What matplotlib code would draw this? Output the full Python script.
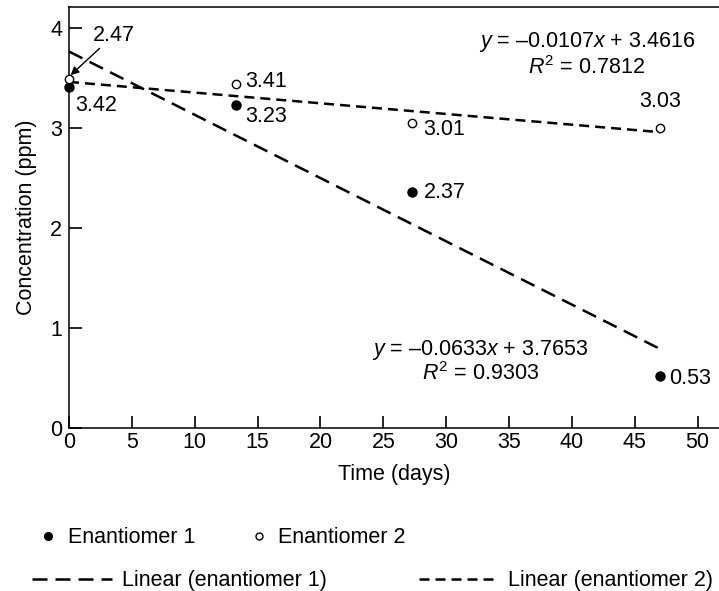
import matplotlib
matplotlib.use("Agg")
import matplotlib.pyplot as plt
from matplotlib.lines import Line2D
import numpy as np

plt.rcParams['font.family'] = ['Liberation Sans', 'DejaVu Sans']
plt.rcParams['mathtext.fontset'] = 'custom'
plt.rcParams['mathtext.it'] = 'Liberation Sans:italic'
plt.rcParams['mathtext.rm'] = 'Liberation Sans'

# data
days = [0, 13.3, 27.3, 47]
enant1 = [3.41, 3.23, 2.36, 0.52]
enant2 = [3.49, 3.44, 3.05, 3.00]
labels1 = ["3.42", "3.23", "2.37", "0.53"]
labels2 = ["2.47", "3.41", "3.01", "3.03"]
fit1 = (-0.0633, 3.7653, 0.9303)
fit2 = (-0.0107, 3.4616, 0.7812)
xticks = [0, 5, 10, 15, 20, 25, 30, 35, 40, 45, 50]
yticks = [0, 1, 2, 3, 4]

FS = 15.5
LONG = (6, 3.2)
SHORT = (4, 2.4)

fig = plt.figure(figsize=(7.19, 5.91), dpi=100)
ax = fig.add_axes([0.096, 0.276, 0.904, 0.712])
ax.set_xlim(0, 51.7)
ax.set_ylim(0, 4.21)

xfit = np.array([days[0], days[-1]])
ax.plot(xfit, fit1[0] * xfit + fit1[1], color='black', lw=1.8, dashes=LONG)
ax.plot(xfit, fit2[0] * xfit + fit2[1], color='black', lw=1.8, dashes=SHORT)

ax.plot(days, enant1, 'o', color='black', ms=6.5, ls='none', clip_on=False, zorder=5)
ax.plot(days, enant2, 'o', mfc='white', mec='black', mew=1.0, ms=6, ls='none', clip_on=False, zorder=6)

# point labels
ax.text(0.5, enant1[0] - 0.08, labels1[0], fontsize=FS, va='top', ha='left')
ax.text(14.0, enant1[1] - 0.01, labels1[1], fontsize=FS, va='top', ha='left')
ax.text(28.2, enant1[2], labels1[2], fontsize=FS, va='center', ha='left')
ax.text(47.7, enant1[3] - 0.03, labels1[3], fontsize=FS, va='center', ha='left')

ax.annotate(labels2[0], xy=(days[0] + 0.05, enant2[0] + 0.03), xytext=(1.9, 3.93),
            fontsize=FS, va='center', ha='left',
            arrowprops=dict(arrowstyle='-|>', color='black', lw=1.0,
                            shrinkA=0, shrinkB=1, mutation_scale=12))
ax.text(14.0, enant2[1] + 0.03, labels2[1], fontsize=FS, va='center', ha='left')
ax.text(28.2, enant2[2] - 0.06, labels2[2], fontsize=FS, va='center', ha='left')
ax.text(days[3], enant2[3] + 0.16, labels2[3], fontsize=FS, va='bottom', ha='center')

# equations
ax.text(41.2, 3.86, r"$y$ = –%.4f$x$ + %.4f" % (-fit2[0], fit2[1]), fontsize=FS, ha='center', va='center')
ax.text(41.2, 3.61, r"$R^2$ = %.4f" % fit2[2], fontsize=FS, ha='center', va='center')
ax.text(32.7, 0.78, r"$y$ = –%.4f$x$ + %.4f" % (-fit1[0], fit1[1]), fontsize=FS, ha='center', va='center')
ax.text(32.7, 0.54, r"$R^2$ = %.4f" % fit1[2], fontsize=FS, ha='center', va='center')

ax.set_xticks(xticks)
ax.set_yticks(yticks)
ax.xaxis.set_tick_params(which='major', direction='in', length=9, width=1.2,
                         color='black', labelsize=FS, pad=3, bottom=True, top=False)
ax.yaxis.set_tick_params(which='major', direction='in', length=9, width=1.2,
                         color='black', labelsize=FS, pad=5, left=True, right=False)
for s in ['left', 'top', 'bottom']:
    ax.spines[s].set_linewidth(1.1)
ax.spines['right'].set_visible(False)
ax.set_xlabel("Time (days)", fontsize=FS, labelpad=8)
ax.set_ylabel("Concentration (ppm)", fontsize=FS, labelpad=9)

h1 = [Line2D([], [], marker='o', color='black', ls='none', ms=5.5),
      Line2D([], [], marker='o', mfc='white', mec='black', ls='none', ms=5)]
leg1 = fig.legend(h1, ["Enantiomer 1", "Enantiomer 2"], loc='center left',
                  bbox_to_anchor=(0.03, 0.09), ncol=2, frameon=False, fontsize=FS,
                  handlelength=0.7, handletextpad=0.55, columnspacing=2.6)
h2 = [Line2D([], [], color='black', lw=1.8, dashes=LONG),
      Line2D([], [], color='black', lw=1.8, dashes=SHORT)]
leg2 = fig.legend(h2, ["Linear (enantiomer 1)", "Linear (enantiomer 2)"], loc='center left',
                  bbox_to_anchor=(0.018, 0.017), ncol=2, frameon=False, fontsize=FS,
                  handlelength=3.7, handletextpad=0.45, columnspacing=4.3)

fig.savefig("out.png", dpi=100)
